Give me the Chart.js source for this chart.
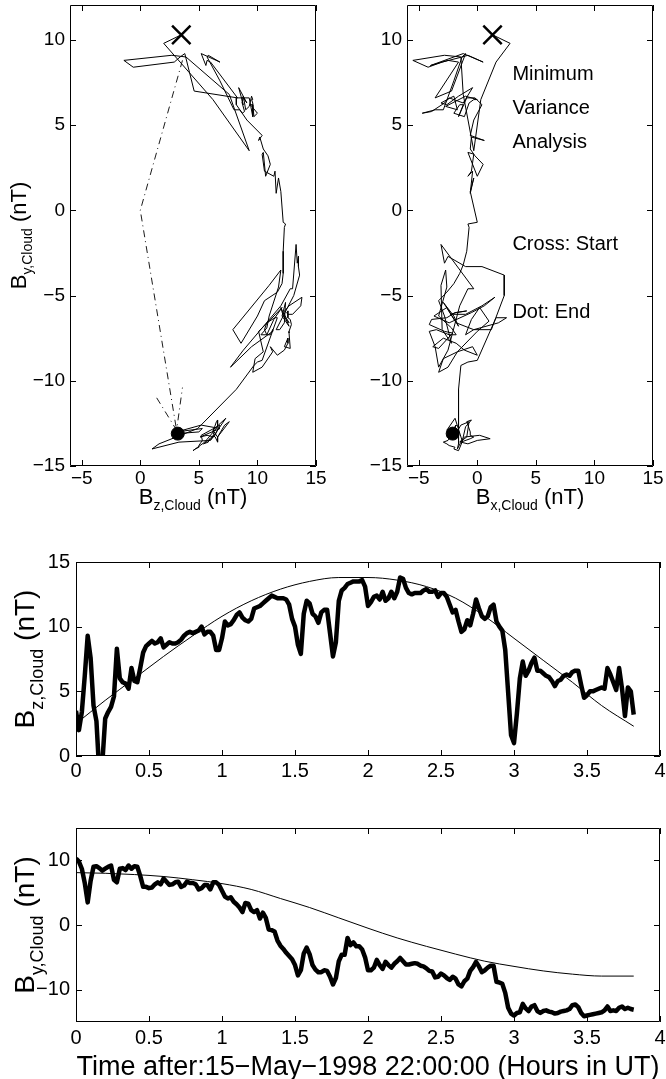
<!DOCTYPE html>
<html>
<head>
<meta charset="utf-8">
<script src="https://cdn.jsdelivr.net/npm/chart.js@4.4.1/dist/chart.umd.min.js"></script>
<style>
  html, body { margin: 0; padding: 0; background: #fff; overflow: hidden; }
  #page { position: relative; width: 666px; height: 1079px; }
  canvas { position: absolute; }
</style>
</head>
<body>
<div id="page">
  <canvas id="hodoZ" width="340" height="520" style="left:0;top:0;width:340px;height:520px"></canvas>
  <canvas id="hodoX" width="326" height="520" style="left:340px;top:0;width:326px;height:520px"></canvas>
  <canvas id="seriesZ" width="666" height="260" style="left:0;top:520px;width:666px;height:260px"></canvas>
  <canvas id="seriesY" width="666" height="299" style="left:0;top:780px;width:666px;height:299px"></canvas>
</div>
<script>
// tiempo (horas desde 15-May-1998 22:00 UT), muestras cada 0.02 h
const hours = [
  0.00, 0.02, 0.04, 0.06, 0.08, 0.10, 0.12, 0.14, 0.16, 0.18,
  0.20, 0.22, 0.24, 0.26, 0.28, 0.30, 0.32, 0.34, 0.36, 0.38,
  0.40, 0.42, 0.44, 0.46, 0.48, 0.50, 0.52, 0.54, 0.56, 0.58,
  0.60, 0.62, 0.64, 0.66, 0.68, 0.70, 0.72, 0.74, 0.76, 0.78,
  0.80, 0.82, 0.84, 0.86, 0.88, 0.90, 0.92, 0.94, 0.96, 0.98,
  1.00, 1.02, 1.04, 1.06, 1.08, 1.10, 1.12, 1.14, 1.16, 1.18,
  1.20, 1.22, 1.24, 1.26, 1.28, 1.30, 1.32, 1.34, 1.36, 1.38,
  1.40, 1.42, 1.44, 1.46, 1.48, 1.50, 1.52, 1.54, 1.56, 1.58,
  1.60, 1.62, 1.64, 1.66, 1.68, 1.70, 1.72, 1.74, 1.76, 1.78,
  1.80, 1.82, 1.84, 1.86, 1.88, 1.90, 1.92, 1.94, 1.96, 1.98,
  2.00, 2.02, 2.04, 2.06, 2.08, 2.10, 2.12, 2.14, 2.16, 2.18,
  2.20, 2.22, 2.24, 2.26, 2.28, 2.30, 2.32, 2.34, 2.36, 2.38,
  2.40, 2.42, 2.44, 2.46, 2.48, 2.50, 2.52, 2.54, 2.56, 2.58,
  2.60, 2.62, 2.64, 2.66, 2.68, 2.70, 2.72, 2.74, 2.76, 2.78,
  2.80, 2.82, 2.84, 2.86, 2.88, 2.90, 2.92, 2.94, 2.96, 2.98,
  3.00, 3.02, 3.04, 3.06, 3.08, 3.10, 3.12, 3.14, 3.16, 3.18,
  3.20, 3.22, 3.24, 3.26, 3.28, 3.30, 3.32, 3.34, 3.36, 3.38,
  3.40, 3.42, 3.44, 3.46, 3.48, 3.50, 3.52, 3.54, 3.56, 3.58,
  3.60, 3.62, 3.64, 3.66, 3.68, 3.70, 3.72, 3.74, 3.76, 3.78,
  3.80, 3.82
];

// B_z,Cloud (nT)
const bz = [
  3.5, 2.0, 3.4, 6.2, 9.3, 7.6, 3.9, 2.7, -1.4, -0.6,
  2.9, 3.4, 3.8, 4.6, 8.3, 6.0, 5.7, 5.6, 5.2, 6.8,
  5.8, 5.7, 6.8, 8.0, 8.5, 8.7, 8.9, 8.7, 8.8, 9.1,
  8.4, 8.6, 8.8, 8.7, 8.7, 8.8, 9.0, 9.3, 9.5, 9.6,
  9.5, 9.6, 9.7, 10.0, 9.4, 9.6, 9.6, 9.3, 8.2, 8.2,
  9.1, 10.4, 10.1, 10.2, 10.5, 10.9, 11.1, 10.7, 10.5, 10.4,
  10.6, 11.4, 11.5, 11.6, 11.8, 12.0, 12.2, 12.4, 12.3, 12.2,
  12.2, 12.2, 12.1, 11.7, 10.6, 10.0, 8.6, 7.9, 11.0, 12.0,
  11.8, 11.0, 10.8, 10.3, 11.1, 11.3, 11.3, 9.5, 7.7, 8.8,
  12.0, 12.8, 13.0, 13.3, 13.4, 13.5, 13.5, 13.5, 13.6, 13.1,
  11.6, 11.9, 12.3, 12.4, 12.1, 12.7, 12.0, 12.2, 12.7, 12.2,
  12.7, 13.8, 13.7, 13.0, 12.6, 12.5, 12.6, 12.6, 12.6, 12.8,
  12.9, 12.7, 12.7, 12.8, 12.3, 12.6, 12.6, 12.3, 11.7, 11.1,
  11.3, 10.4, 9.6, 9.8, 10.5, 10.1, 11.0, 12.1, 11.4, 10.8,
  10.6, 10.8, 11.5, 11.7, 10.4, 10.0, 9.7, 8.2, 4.9, 1.6,
  1.0, 3.3, 6.0, 7.3, 6.2, 6.6, 7.2, 7.6, 6.6, 6.6,
  6.4, 6.2, 6.1, 5.8, 5.4, 5.8, 5.9, 6.2, 6.3, 6.2,
  6.5, 6.6, 6.6, 5.5, 4.5, 4.7, 5.0, 5.0, 5.1, 5.2,
  5.3, 5.2, 6.8, 6.3, 5.7, 5.1, 6.8, 5.2, 3.1, 5.3,
  5.0, 3.2
];

// B_y,Cloud (nT)
const by = [
  10.3, 9.8, 8.7, 6.5, 3.5, 6.8, 9.0, 9.1, 8.8, 8.4,
  8.7, 9.0, 9.2, 7.0, 6.6, 8.7, 8.8, 8.5, 9.2, 8.7,
  9.1, 9.0, 7.6, 5.9, 5.9, 5.7, 5.8, 6.3, 6.6, 6.3,
  7.2, 6.7, 6.2, 6.3, 6.6, 6.7, 5.9, 6.1, 6.7, 6.5,
  6.5, 6.3, 5.5, 5.7, 6.2, 6.2, 5.5, 6.6, 6.6, 6.2,
  5.3, 4.4, 4.1, 4.3, 3.6, 3.2, 2.7, 2.0, 3.4, 3.3,
  2.3, 2.0, 2.3, 1.0, 1.9, 1.1, -0.7, -0.8, -1.0, -2.4,
  -3.2, -3.7, -4.3, -4.8, -5.3, -6.2, -7.8, -7.0, -4.4, -3.5,
  -4.5, -6.2, -6.9, -7.3, -7.3, -7.0, -7.1, -8.0, -9.2, -8.2,
  -5.6, -4.6, -4.6, -2.0, -3.1, -2.7, -3.3, -3.3, -3.8, -5.0,
  -7.0, -7.0, -6.6, -5.4, -6.2, -6.8, -5.7, -6.2, -6.6, -6.0,
  -5.6, -5.1, -5.6, -6.1, -6.1, -6.0, -5.9, -6.0, -6.3, -6.4,
  -6.7, -7.1, -7.2, -8.1, -8.0, -7.5, -7.8, -8.2, -8.5, -8.0,
  -8.3, -9.2, -9.5, -8.7, -8.3, -7.1, -6.5, -5.7, -6.4, -7.3,
  -7.0, -6.6, -6.3, -6.3, -8.8, -8.9, -9.1, -10.5, -12.8, -13.7,
  -14.0, -13.6, -13.5, -12.2, -12.9, -13.3, -12.6, -12.4, -13.3, -13.6,
  -13.3, -13.2, -13.4, -13.5, -13.7, -13.6, -13.4, -13.3, -13.2, -13.0,
  -12.4, -12.3, -12.7, -13.6, -14.1, -14.0, -13.9, -13.8, -13.7, -13.6,
  -13.5, -13.2, -12.6, -13.3, -13.2, -13.3, -12.8, -12.6, -13.0, -12.8,
  -13.0, -13.1
];

// B_x,Cloud (nT), solo visible en el hodograma
const bx = [
  1.3, 2.8, 1.6, 0.3, -0.3, -1.2, -1.4, -2.8, -5.5, -4.2,
  -3.0, -1.3, -1.0, -2.2, -3.6, -1.6, -2.5, -4.0, -1.2, 0.5,
  -0.8, -1.3, -2.0, -2.9, -3.6, -4.7, -3.9, -2.8, -2.4, -1.2,
  -0.4, -1.6, -2.6, -3.1, -2.3, -2.0, -1.7, -2.7, -1.0, 0.0,
  -0.3, -0.7, -1.1, -2.0, -1.5, -1.2, -1.6, -0.9, -0.2, 0.4,
  -0.3, -0.6, 0.6, -0.5, -0.6, -0.2, 0.5, 0.0, -0.8, -0.3,
  -0.5, -0.8, -0.4, -0.6, -0.3, -0.6, 0.0, -0.8, -0.7, -0.9,
  -1.2, -1.5, -2.0, -2.6, -3.3, -2.8, -2.2, -3.0, -3.1, -2.7,
  -2.6, -3.3, -2.2, -1.8, -2.4, -3.5, -4.1, -3.6, -3.3, -2.5,
  -1.5, -0.8, -0.3, -3.1, -2.8, -2.5, -1.0, 0.4, 2.3, 2.3,
  1.2, -0.3, -1.8, -2.9, -2.0, -1.6, -2.6, -3.7, -2.4, -0.5,
  0.6, 1.5, 0.4, -1.0, -2.3, -1.8, -0.9, -1.9, -2.6, -3.9,
  -4.1, -2.8, -2.1, -3.3, -3.8, -2.9, -1.8, -1.1, 0.0, -0.4,
  -1.7, -2.5, -3.3, -2.9, -1.7, 0.0, 1.0, 0.2, -0.5, -1.0,
  -0.3, 1.8, 2.5, 1.6, 0.0, -0.8, -1.4, -1.6, -1.6, -1.6,
  -1.7, -1.4, -1.3, -1.9, -2.6, -2.0, -1.4, -0.7, -0.9, -1.5,
  -1.1, 0.2, 1.1, 0.0, -0.8, -1.4, -0.6, -0.3, -0.6, -0.6,
  -0.9, -0.5, -1.0, -1.3, -1.6, -2.0, -1.9, -2.4, -2.6, -2.9,
  -2.5, -2.2, -1.8, -2.3, -1.7, -2.6, -2.0, -1.8, -2.2, -2.0,
  -2.3, -2.1
];

// ajuste del modelo (linea fina)
const modelHours = [0.0, 0.2, 0.4, 0.6, 0.8, 1.0, 1.2, 1.4, 1.6, 1.8, 2.0, 2.2, 2.4, 2.6, 2.8, 3.0, 3.2, 3.4, 3.6, 3.82];
const bzModel = [2.5, 4.3, 6.0, 7.7, 9.3, 10.8, 12.0, 12.9, 13.5, 13.8, 13.8, 13.6, 13.1, 12.2, 10.8, 9.1, 7.4, 5.7, 3.9, 2.3];
const byModel = [8.1, 8.0, 7.8, 7.5, 7.0, 6.4, 5.5, 4.1, 2.7, 1.1, -0.5, -2.0, -3.3, -4.5, -5.6, -6.4, -7.1, -7.6, -7.9, -7.9];

// ejes de varianza minima (linea punto-raya)
const mvaZ = [3.6, 0.0, 3.1];
const mvaY = [8.8, 0.0, -12.9];
const mvaTipZ = [1.4, 3.1, 3.6];
const mvaTipY = [-11.0, -12.9, -10.4];

// ticks
const hodoXTicks = [-5, 0, 5, 10, 15];
const hodoYTicks = [-15, -10, -5, 0, 5, 10];
const timeTicks = [0, 0.5, 1, 1.5, 2, 2.5, 3, 3.5, 4];
const bzTicks = [0, 5, 10, 15];
const byTicks = [-10, 0, 10];

const noteLines = ["Minimum", "Variance", "Analysis", "Cross: Start", "Dot: End"];
const noteY = [8, 6, 4, -2, -6];
const noteX = 3;

const FONT = "'Liberation Sans', Arial, Helvetica, sans-serif";
Chart.defaults.font.family = FONT;
Chart.defaults.color = "#000";

const last = hours.length - 1;
const pairs = (xs, ys) => xs.map((v, i) => ({ x: v, y: ys[i] }));

function drawLabel(ctx, t, cx, cy, vertical) {
  const big = `${t.size}px ${FONT}`, small = `${t.subSize || 10}px ${FONT}`;
  ctx.font = big;
  const w1 = ctx.measureText(t.main).width;
  const w3 = t.unit ? ctx.measureText(t.unit).width : 0;
  ctx.font = small;
  const w2 = t.sub ? ctx.measureText(t.sub).width : 0;
  ctx.save();
  ctx.translate(cx, cy);
  if (vertical) ctx.rotate(-Math.PI / 2);
  ctx.fillStyle = "#000";
  ctx.textAlign = "left";
  ctx.textBaseline = "alphabetic";
  let u = -(w1 + w2 + w3) / 2;
  ctx.font = big; ctx.fillText(t.main, u, 0); u += w1;
  if (t.sub) { ctx.font = small; ctx.fillText(t.sub, u, t.drop); u += w2; }
  if (t.unit) { ctx.font = big; ctx.fillText(t.unit, u, 0); }
  ctx.restore();
}

// marco tipo MATLAB: caja, ticks hacia adentro en los cuatro lados y titulos
const matlabFrame = {
  id: "matlabFrame",
  afterDraw(chart, args, opts) {
    const { ctx, chartArea: a, scales: { x, y } } = chart;
    const len = opts.tickLength || 6;
    ctx.save();
    ctx.strokeStyle = "#000";
    ctx.lineWidth = 1;
    ctx.beginPath();
    ctx.rect(Math.round(a.left) + 0.5, Math.round(a.top) + 0.5, Math.round(a.width) - 1, Math.round(a.height) - 1);
    x.ticks.forEach(t => {
      const px = Math.round(x.getPixelForValue(t.value)) + 0.5;
      ctx.moveTo(px, a.bottom); ctx.lineTo(px, a.bottom - len);
      ctx.moveTo(px, a.top); ctx.lineTo(px, a.top + len);
    });
    y.ticks.forEach(t => {
      const py = Math.round(y.getPixelForValue(t.value)) + 0.5;
      ctx.moveTo(a.left, py); ctx.lineTo(a.left + len, py);
      ctx.moveTo(a.right, py); ctx.lineTo(a.right - len, py);
    });
    ctx.stroke();
    if (opts.xTitle) drawLabel(ctx, opts.xTitle, (a.left + a.right) / 2, opts.xTitleY, false);
    if (opts.yTitle) drawLabel(ctx, opts.yTitle, opts.yTitleX, (a.top + a.bottom) / 2, true);
    if (opts.notes) {
      ctx.fillStyle = "#000";
      ctx.font = `${opts.noteSize}px ${FONT}`;
      ctx.textAlign = "left";
      ctx.textBaseline = "middle";
      opts.notes.forEach((txt, i) => ctx.fillText(txt, x.getPixelForValue(noteX), y.getPixelForValue(noteY[i])));
    }
    ctx.restore();
  }
};

// el tamaño del eje es fijo y sin relleno extra, asi el area queda donde en la figura original
function fixedSize(prop, px) {
  return s => {
    s[prop] = px;
    s.paddingTop = 0; s.paddingBottom = 0; s.paddingLeft = 0; s.paddingRight = 0;
  };
}

function axis(min, max, ticks, size, pad, fit) {
  return {
    type: "linear", min, max,
    grid: { display: false, drawTicks: false },
    border: { display: false },
    afterBuildTicks: s => { s.ticks = ticks.map(v => ({ value: v })); },
    afterFit: fit,
    ticks: {
      autoSkip: false, maxRotation: 0, minRotation: 0, padding: pad,
      font: { size }, color: "#000",
      callback: v => String(v).replace("-", "\u2212")
    }
  };
}

const baseOptions = (padding, frame, scales) => ({
  responsive: false,
  animation: false,
  events: [],
  layout: { padding, autoPadding: false },
  scales,
  plugins: { legend: { display: false }, tooltip: { enabled: false }, matlabFrame: frame }
});

const thin = (data, extra) => Object.assign({ data, borderColor: "#000", borderWidth: 1, pointRadius: 0, showLine: true, fill: false }, extra);

// hodograma Bz - By
new Chart(document.getElementById("hodoZ"), {
  type: "scatter",
  data: {
    datasets: [
      thin(pairs(bz, by)),
      thin(pairs(mvaZ, mvaY), { borderDash: [7, 4, 1, 4], borderWidth: 0.9 }),
      thin(pairs(mvaTipZ, mvaTipY), { borderDash: [7, 4, 1, 4], borderWidth: 0.9 }),
      { data: [{ x: bz[0], y: by[0] }], pointStyle: "crossRot", pointRadius: 13, borderWidth: 2.5, borderColor: "#000", showLine: false },
      { data: [{ x: bz[last], y: by[last] }], pointStyle: "circle", pointRadius: 6.5, backgroundColor: "#000", borderColor: "#000", showLine: false }
    ]
  },
  options: baseOptions({ left: 0, right: 24, top: 5, bottom: 0 }, {
    xTitle: { main: "B", sub: "z,Cloud", unit: " (nT)", size: 22, subSize: 14, drop: 6 }, xTitleY: 504,
    yTitle: { main: "B", sub: "y,Cloud", unit: " (nT)", size: 22, subSize: 14, drop: 6 }, yTitleX: 26
  }, {
    x: axis(-6, 15, hodoXTicks, 19, 1, fixedSize("height", 54)),
    y: axis(-15, 12.05, hodoYTicks, 19, 5, fixedSize("width", 70))
  }),
  plugins: [matlabFrame]
});

// hodograma Bx - By
new Chart(document.getElementById("hodoX"), {
  type: "scatter",
  data: {
    datasets: [
      thin(pairs(bx, by)),
      { data: [{ x: bx[0], y: by[0] }], pointStyle: "crossRot", pointRadius: 13, borderWidth: 2.5, borderColor: "#000", showLine: false },
      { data: [{ x: bx[last], y: by[last] }], pointStyle: "circle", pointRadius: 6.5, backgroundColor: "#000", borderColor: "#000", showLine: false }
    ]
  },
  options: baseOptions({ left: 0, right: 13, top: 5, bottom: 0 }, {
    xTitle: { main: "B", sub: "x,Cloud", unit: " (nT)", size: 22, subSize: 14, drop: 6 }, xTitleY: 504,
    notes: noteLines, noteSize: 20
  }, {
    x: axis(-6, 15, hodoXTicks, 19, 1, fixedSize("height", 54)),
    y: axis(-15, 12.05, hodoYTicks, 19, 5, fixedSize("width", 67))
  }),
  plugins: [matlabFrame]
});

// serie temporal Bz
new Chart(document.getElementById("seriesZ"), {
  type: "line",
  data: {
    datasets: [
      thin(pairs(modelHours, bzModel), { cubicInterpolationMode: "monotone" }),
      { data: pairs(hours, bz), borderColor: "#000", borderWidth: 4.5, pointRadius: 0, borderJoinStyle: "round", clip: 0 }
    ]
  },
  options: baseOptions({ left: 0, right: 6, top: 42, bottom: 0 }, {
    yTitle: { main: "B", sub: "z,Cloud", unit: " (nT)", size: 28, subSize: 18, drop: 9 }, yTitleX: 34
  }, {
    x: axis(0, 4, timeTicks, 20, 3, fixedSize("height", 24)),
    y: axis(0, 15, bzTicks, 20, 6, fixedSize("width", 76))
  }),
  plugins: [matlabFrame]
});

// serie temporal By
new Chart(document.getElementById("seriesY"), {
  type: "line",
  data: {
    datasets: [
      thin(pairs(modelHours, byModel), { cubicInterpolationMode: "monotone" }),
      { data: pairs(hours, by), borderColor: "#000", borderWidth: 4.5, pointRadius: 0, borderJoinStyle: "round", clip: 0 }
    ]
  },
  options: baseOptions({ left: 0, right: 6, top: 48, bottom: 0 }, {
    yTitle: { main: "B", sub: "y,Cloud", unit: " (nT)", size: 28, subSize: 18, drop: 9 }, yTitleX: 34,
    xTitle: { main: "Time after:15\u2212May\u22121998 22:00:00 (Hours in UT)", size: 27 }, xTitleY: 295
  }, {
    x: axis(0, 4, timeTicks, 20, 4, fixedSize("height", 57)),
    y: axis(-15, 15, byTicks, 20, 6, fixedSize("width", 76))
  }),
  plugins: [matlabFrame]
});
</script>
</body>
</html>
